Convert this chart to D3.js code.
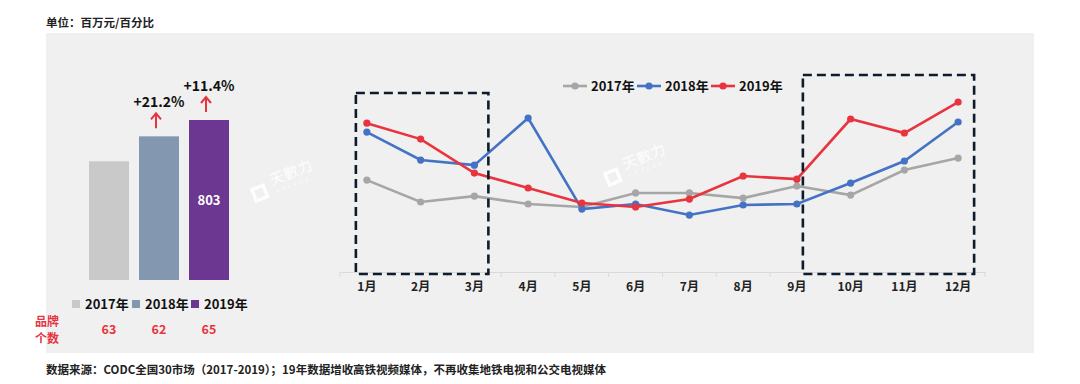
<!DOCTYPE html>
<html>
<head>
<meta charset="utf-8">
<script src="https://cdn.jsdelivr.net/npm/d3@7"></script>
<style>
    body { margin: 0; background: #fff; }
    svg { display: block; font-family: "Noto Sans CJK SC", "Noto Sans", sans-serif; }
</style>
</head>
<body>
<svg id="chart" width="1080" height="384"></svg>
<script>
// yearly totals (bar chart, millions)
const years = ["2017年", "2018年", "2019年"];
const totals = [596, 721, 803];
const growth = [null, "+21.2%", "+11.4%"];
const brandCounts = [63, 62, 65];

// monthly spend per year (line chart, millions)
const months = ["1月", "2月", "3月", "4月", "5月", "6月", "7月", "8月", "9月", "10月", "11月", "12月"];
const spend2017 = [55.8, 42.5, 46.1, 41.3, 39.5, 48.0, 48.0, 44.9, 52.2, 46.7, 61.9, 69.2];
const spend2018 = [85.0, 68.0, 64.9, 93.5, 38.2, 41.3, 34.6, 40.7, 41.3, 54.0, 67.4, 91.1];
const spend2019 = [90.4, 80.7, 60.1, 51.0, 41.9, 39.5, 44.3, 58.3, 56.4, 92.9, 84.4, 103.2];

// highlighted month ranges
const highlights = [["1月", "3月"], ["9月", "12月"]];

const barColors = ["#c9c9c9", "#8497b0", "#6b3791"];
const lineSeries = [
    { name: "2017年", values: spend2017, color: "#a6a6a6" },
    { name: "2018年", values: spend2018, color: "#4472c4" },
    { name: "2019年", values: spend2019, color: "#e8343f" }
];
const red = "#e8343f";

const svg = d3.select("#chart");

svg.append("text")
    .attr("x", 46).attr("y", 27)
    .attr("font-size", 11.5).attr("font-weight", "bold").attr("fill", "#222")
    .text("单位：百万元/百分比");

svg.append("rect")
    .attr("x", 46).attr("y", 33).attr("width", 988).attr("height", 320)
    .attr("fill", "#f0f0f0");

svg.append("text")
    .attr("x", 46).attr("y", 374)
    .attr("font-size", 11.5).attr("font-weight", "bold").attr("fill", "#222")
    .attr("textLength", 560)
    .text("数据来源：CODC全国30市场（2017-2019）；19年数据增收高铁视频媒体，不再收集地铁电视和公交电视媒体");

// watermarks
function watermark(x, y) {
    const g = svg.append("g").attr("transform", `translate(${x},${y}) rotate(-22)`).attr("opacity", 0.9);
    g.append("text").attr("x", 0).attr("y", 0).attr("font-size", 15).attr("fill", "#ffffff").text("天數力");
    g.append("text").attr("x", 2).attr("y", 9).attr("font-size", 5).attr("fill", "#ffffff").attr("letter-spacing", 3).text("DTTRNS");
    g.append("rect").attr("x", -20).attr("y", -4).attr("width", 12).attr("height", 12).attr("fill", "none")
        .attr("stroke", "#fff").attr("stroke-width", 3.5);
}
watermark(272, 186);
watermark(625, 170);

// ---------- bar chart ----------
const xBar = d3.scaleBand().domain(years).range([84, 234]).paddingInner(0.2).paddingOuter(0.1);
const yBar = d3.scaleLinear().domain([0, 803]).range([280, 120]);

svg.append("g")
    .selectAll("rect")
    .data(years)
    .join("rect")
    .attr("x", d => xBar(d))
    .attr("y", (d, i) => yBar(totals[i]))
    .attr("width", xBar.bandwidth())
    .attr("height", (d, i) => yBar(0) - yBar(totals[i]))
    .attr("fill", (d, i) => barColors[i]);

svg.append("text")
    .attr("x", xBar(years[2]) + xBar.bandwidth() / 2)
    .attr("y", (yBar(totals[2]) + yBar(0)) / 2 + 5)
    .attr("text-anchor", "middle").attr("font-size", 13).attr("font-weight", "bold").attr("fill", "#fff")
    .text(totals[2]);

years.forEach((year, i) => {
    if (!growth[i]) return;
    const cx = xBar(year) + xBar.bandwidth() / 2;
    const top = yBar(totals[i]);
    svg.append("path")
        .attr("d", `M${cx - 3},${top - 8}V${top - 23}M${cx - 8},${top - 17}L${cx - 3},${top - 23}L${cx + 2},${top - 17}`)
        .attr("fill", "none").attr("stroke", red).attr("stroke-width", 2);
    svg.append("text")
        .attr("x", cx).attr("y", top - 29)
        .attr("text-anchor", "middle").attr("font-size", 14).attr("font-weight", "bold").attr("fill", "#111")
        .text(growth[i]);
});

// bar legend
const barLegend = svg.append("g").selectAll("g")
    .data(years)
    .join("g")
    .attr("transform", (d, i) => `translate(${[72, 132, 191][i]},300)`);
barLegend.append("rect").attr("width", 8).attr("height", 8).attr("fill", (d, i) => barColors[i]);
barLegend.append("text").attr("x", 13).attr("y", 9)
    .attr("font-size", 13).attr("font-weight", "bold").attr("fill", "#111")
    .text(d => d);

// brand counts
svg.append("text").attr("x", 35).attr("y", 326).attr("font-size", 12).attr("font-weight", "bold").attr("fill", red).text("品牌");
svg.append("text").attr("x", 35).attr("y", 343).attr("font-size", 12).attr("font-weight", "bold").attr("fill", red).text("个数");
svg.append("g").selectAll("text")
    .data(brandCounts)
    .join("text")
    .attr("x", (d, i) => xBar(years[i]) + xBar.bandwidth() / 2)
    .attr("y", 334)
    .attr("text-anchor", "middle").attr("font-size", 12.5).attr("font-weight", "bold").attr("fill", red)
    .text(d => d);

// ---------- line chart ----------
const xLine = d3.scaleBand().domain(months).range([340, 985]);
const yLine = d3.scaleLinear().domain([0, 120]).range([272, 74.4]);
const cx = m => xLine(m) + xLine.bandwidth() / 2;

const axis = svg.append("g")
    .attr("transform", "translate(0,272)")
    .call(d3.axisBottom(xLine).tickSize(0).tickPadding(10));
axis.select(".domain").attr("stroke", "#d9d9d9").attr("stroke-width", 1);
axis.selectAll("text").attr("font-size", 12).attr("font-weight", "bold").attr("fill", "#222")
    .attr("font-family", "'Noto Sans CJK SC', sans-serif");
axis.selectAll(".boundary")
    .data(d3.range(months.length + 1))
    .join("line")
    .attr("x1", i => 340 + i * xLine.step()).attr("x2", i => 340 + i * xLine.step())
    .attr("y1", 0).attr("y2", 5)
    .attr("stroke", "#d9d9d9");

const line = d3.line().x((d, i) => cx(months[i])).y(d => yLine(d));

const seriesG = svg.append("g").selectAll("g").data(lineSeries).join("g");
seriesG.append("path")
    .attr("d", s => line(s.values))
    .attr("fill", "none").attr("stroke", s => s.color).attr("stroke-width", 2.6);
seriesG.selectAll("circle")
    .data(s => s.values.map(v => ({ v, color: s.color })))
    .join("circle")
    .attr("cx", (d, i) => cx(months[i]))
    .attr("cy", d => yLine(d.v))
    .attr("r", 3.6)
    .attr("fill", d => d.color);

// highlight boxes
const boxTops = [93, 75];
const boxLeft = [-11, 6];
const boxRight = [14, 16];
highlights.forEach(([from, to], i) => {
    const x0 = cx(from) + boxLeft[i];
    const x1 = cx(to) + boxRight[i];
    svg.append("rect")
        .attr("x", x0).attr("y", boxTops[i])
        .attr("width", x1 - x0).attr("height", 274 - boxTops[i])
        .attr("fill", "none").attr("stroke", "#0e1b2c").attr("stroke-width", 2.6)
        .attr("stroke-dasharray", "9,5");
});

// line legend
const lineLegend = svg.append("g").selectAll("g")
    .data(lineSeries)
    .join("g")
    .attr("transform", (d, i) => `translate(${[563, 637, 711][i]},86)`);
lineLegend.append("line").attr("x1", 0).attr("x2", 24)
    .attr("stroke", d => d.color).attr("stroke-width", 2.6);
lineLegend.append("circle").attr("cx", 12).attr("r", 3.6).attr("fill", d => d.color);
lineLegend.append("text").attr("x", 28).attr("y", 5)
    .attr("font-size", 13).attr("font-weight", "bold").attr("fill", "#111")
    .text(d => d.name);
</script>
</body>
</html>
